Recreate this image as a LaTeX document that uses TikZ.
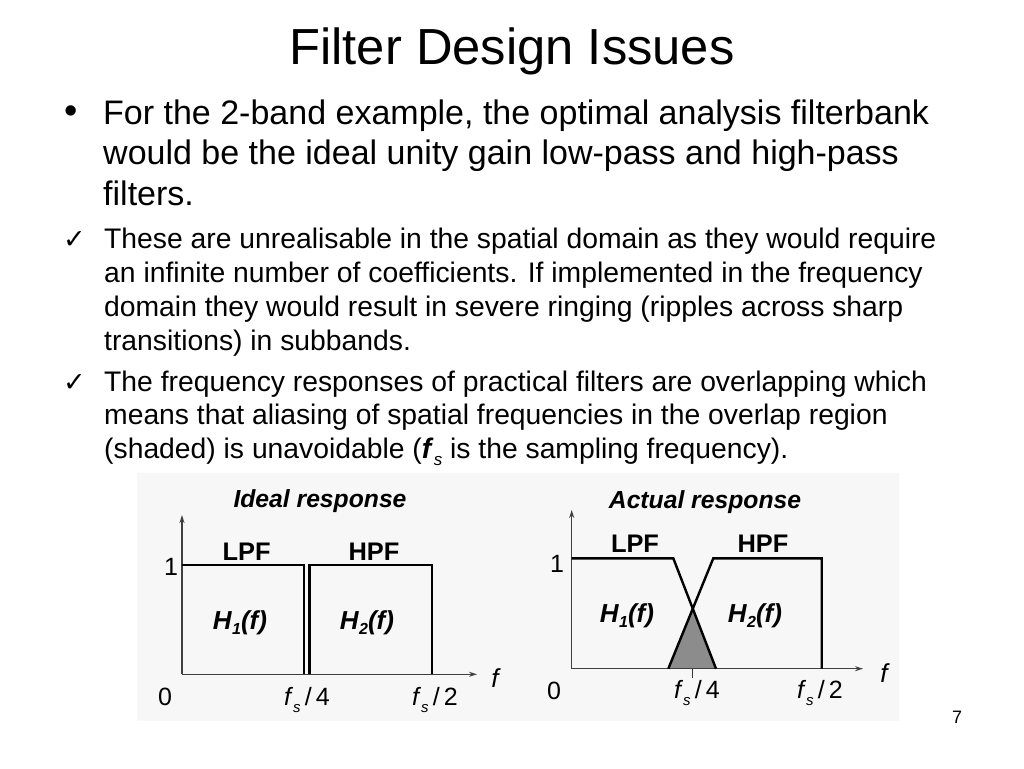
\documentclass[tikz,border=0pt]{standalone}
\usepackage{fontspec}
\setmainfont{Liberation Sans}
\newfontfamily\djv{DejaVu Sans}
\usetikzlibrary{arrows.meta}
\newcommand{\fsub}{\textit{f}\raisebox{-0.55ex}{\fontsize{15}{15}\selectfont\itshape s}}
\newcommand{\Hsub}[1]{\textbf{\textit{H}}\raisebox{-0.4ex}{\fontsize{16}{16}\selectfont\bfseries\itshape #1}\textbf{\textit{(f)}}}
\begin{document}
\begin{tikzpicture}[x=1pt,y=-1pt,
  txt/.style={inner sep=0pt, anchor=base west, font=\fontsize{34}{40}\selectfont},
  subtxt/.style={inner sep=0pt, anchor=base west, font=\fontsize{28.3}{34}\selectfont},
  bul/.style={inner sep=0pt, anchor=base west, font=\fontsize{38}{38}\selectfont},
  chk/.style={inner sep=0pt, anchor=base west, font=\djv\fontsize{27}{27}\selectfont},
  lbl/.style={inner sep=0pt, anchor=base, font=\fontsize{25}{25}\selectfont},
  blbl/.style={inner sep=0pt, anchor=base, font=\bfseries\fontsize{25.4}{25}\selectfont},
  hlbl/.style={inner sep=0pt, anchor=base, font=\fontsize{26}{26}\selectfont},
  ttl/.style={inner sep=0pt, anchor=base, font=\bfseries\itshape\fontsize{24.7}{25}\selectfont},
  axis/.style={line width=1.3pt, draw=black!75, -{Stealth[length=8pt,width=5pt]}},
  resp/.style={line width=2.4pt, draw=black, line join=miter},
  tickln/.style={line width=1.3pt, draw=black!80}
]
\useasboundingbox (0,0) rectangle (1024,768);
\fill[white] (0,0) rectangle (1024,768);
% faint scanned background of the figure
\fill[black!3] (137,473) rectangle (899,721);

% title
\node[inner sep=0pt, anchor=base, font=\fontsize{50.7}{60}\selectfont] (title) at (512,64) {Filter Design Issues};

% main bullet
\node[bul] (b1) at (64,123) {•};
\node[txt] (l1) at (103,124) {For the 2-band example, the optimal analysis filterbank};
\node[txt] (l2) at (103,164.5) {would be the ideal unity gain low-pass and high-pass};
\node[txt] (l3) at (103,205) {filters.};

% check bullet 1
\node[chk] (c1) at (63,248.3) {✓};
\node[subtxt] (s1) at (104,248.3) {These are unrealisable in the spatial domain as they would require};
\node[subtxt] (s2) at (104,282.3) {an infinite number of coefficients. If implemented in the frequency};
\node[subtxt] (s3) at (104,316.5) {domain they would result in severe ringing (ripples across sharp};
\node[subtxt] (s4) at (104,350.5) {transitions) in subbands.};

% check bullet 2
\node[chk] (c2) at (63,391) {✓};
\node[subtxt] (s5) at (104,391) {The frequency responses of practical filters are overlapping which};
\node[subtxt] (s6) at (104,424.5) {means that aliasing of spatial frequencies in the overlap region};
\node[subtxt] (s7) at (104,458.5) {(shaded) is unavoidable (\textbf{\textit{f}}\raisebox{-0.45ex}{\fontsize{17}{17}\selectfont\itshape s} is the sampling frequency).};

% ---------- Ideal response ----------
\coordinate (io) at (182,674.3);
\coordinate (iy) at (182,515);
\coordinate (ix) at (477,674.3);
\draw[axis] (io) -- (iy);
\draw[axis] (io) -- (ix);
\coordinate (l1a) at (182,565);
\coordinate (l1b) at (304,565);
\coordinate (l1c) at (304,674.3);
\draw[resp] (l1a) -- (l1b) -- (l1c);
\coordinate (h1a) at (309.3,674.3);
\coordinate (h1b) at (309.3,565);
\coordinate (h1c) at (432,565);
\coordinate (h1d) at (432,674.3);
\draw[resp] (h1a) -- (h1b) -- (h1c) -- (h1d);

\node[ttl] (it) at (320,507.5) {Ideal response};
\node[blbl] (ilpf) at (246.7,560) {LPF};
\node[blbl] (ihpf) at (374,560) {HPF};
\node[hlbl] (ih1) at (240,629) {\Hsub{1}};
\node[hlbl] (ih2) at (367,629) {\Hsub{2}};
\node[lbl] (i1) at (171,575) {1};
\node[lbl] (i0) at (165,705) {0};
\node[lbl] (ifs4) at (307,705) {\fsub\,/\,4};
\node[lbl] (ifs2) at (435,705) {\fsub\,/\,2};
\node[lbl, font=\itshape\fontsize{26}{26}\selectfont] (if) at (495,687) {f};

% ---------- Actual response ----------
\coordinate (ao) at (571.7,668.7);
\coordinate (ay) at (571.7,510);
\coordinate (ax) at (863,668.7);
\coordinate (ta) at (668.3,668.7);
\coordinate (tx) at (692.7,608.3);
\coordinate (tb) at (716,668.7);
\fill[black!45] (ta) -- (tx) -- (tb) -- cycle;
\draw[axis] (ao) -- (ay);
\draw[axis] (ao) -- (ax);
\coordinate (l2a) at (571.7,558.3);
\coordinate (l2b) at (673.3,558.3);
\draw[resp] (l2a) -- (l2b) -- (tb);
\coordinate (h2b) at (713.3,558.3);
\coordinate (h2c) at (821.7,558.3);
\coordinate (h2d) at (821.7,668.7);
\draw[resp] (ta) -- (h2b) -- (h2c) -- (h2d);
\coordinate (tk1) at (692.7,668.7);
\coordinate (tk2) at (692.7,678);
\draw[tickln] (tk1) -- (tk2);

\node[ttl] (at) at (705,508) {Actual response};
\node[blbl] (alpf) at (635,552) {LPF};
\node[blbl] (ahpf) at (763,552) {HPF};
\node[hlbl] (ah1) at (627,622) {\Hsub{1}};
\node[hlbl] (ah2) at (755,622) {\Hsub{2}};
\node[lbl] (a1) at (557,572) {1};
\node[lbl] (a0) at (554,699) {0};
\node[lbl] (afs4) at (697,698) {\fsub\,/\,4};
\node[lbl] (afs2) at (820,698) {\fsub\,/\,2};
\node[lbl, font=\itshape\fontsize{26}{26}\selectfont] (af) at (884,682) {f};

% page number
\node[inner sep=0pt, anchor=base, font=\fontsize{18}{18}\selectfont] (pn) at (957,723) {7};
\end{tikzpicture}
\end{document}
